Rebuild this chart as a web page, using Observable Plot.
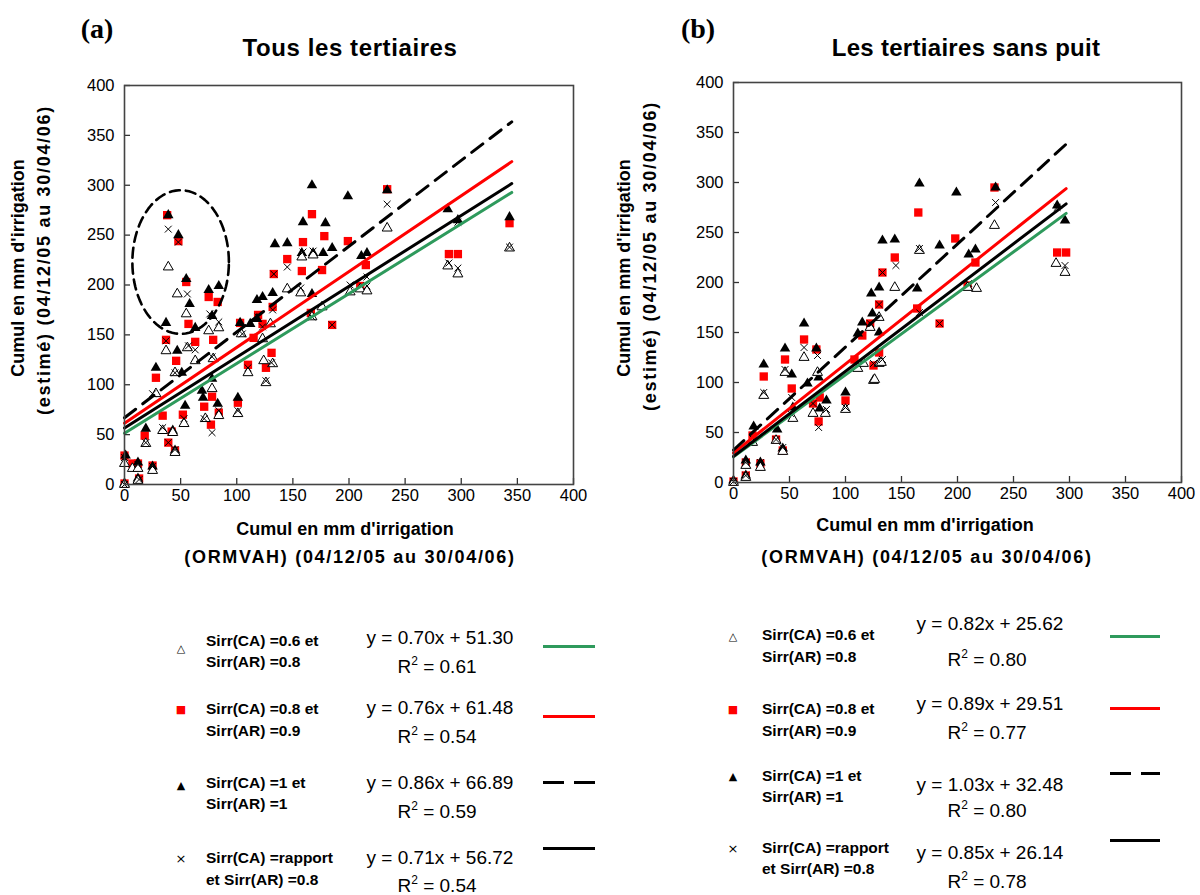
<!DOCTYPE html>
<html><head><meta charset="utf-8">
<script src="https://cdn.jsdelivr.net/npm/d3@7"></script>
<script src="https://cdn.jsdelivr.net/npm/@observablehq/plot@0.6"></script>
<style>
body{margin:0;background:#fff;}
#root{position:relative;width:1200px;height:895px;overflow:hidden;background:#fff;font-family:"Liberation Sans",Arial,sans-serif;color:#000;}
.t{position:absolute;white-space:nowrap;line-height:1;}
.c{transform:translate(-50%,-50%);}
.l{transform:translate(0,-50%);}
.plot{position:absolute;top:0;}
</style></head><body><div id="root"></div>
<script>
// ---------- tick values ----------
const axisTicks = [0, 50, 100, 150, 200, 250, 300, 350, 400];

// ---------- panel (a) : Tous les tertiaires ----------
const aOpen = [[39,218],[47,191],[55,171],[75,154],[84,157],[37,134],[56,137],[63,124],[79,126],[45,112],[28,91],[78,96],[34,54],[53,61],[72,66],[84,69],[101,71],[19,41],[43,52],[45,32],[0,21],[7,16],[12,16],[25,14],[12,4],[0,0],
  [157,192],[145,196],[167,168],[176,178],[168,230],[126,102],[110,112],[124,124],[132,121],[104,151],[130,161],[123,146],[158,228],[210,196],
  [234,257],[288,219],[297,211],[343,237],[216,194],[201,193]];
const aRed = [[38,270],[48,244],[55,203],[75,188],[83,183],[57,161],[37,145],[63,143],[79,145],[46,124],[28,107],[34,69],[52,70],[71,78],[78,88],[77,60],[84,72],[101,82],[18,49],[42,53],[39,42],[45,34],[0,29],[7,21],[12,21],[25,19],[13,6],[0,1],
  [167,271],[178,249],[199,244],[159,243],[145,226],[158,214],[176,215],[133,211],[215,220],[132,178],[119,170],[123,161],[166,172],[185,160],[115,147],[131,132],[110,120],[126,117],[103,162],
  [234,296],[289,231],[297,231],[343,262],[210,199]];
const aFilled = [[55,206],[75,195],[84,199],[58,181],[37,162],[78,169],[63,157],[47,134],[28,117],[51,112],[78,106],[69,94],[54,79],[70,87],[83,81],[101,87],[19,56],[43,54],[45,34],[1,29],[12,22],[25,18],[12,6],[0,1],
  [103,162],[118,185],[123,188],[132,192],[112,161],[118,166],[39,270],[48,250],
  [167,300],[199,289],[159,263],[179,262],[134,241],[145,242],[158,232],[168,232],[177,232],[185,237],[211,229],[216,232],[167,191],
  [234,295],[288,276],[297,265],[343,268]];
const aCross = [[39,256],[48,243],[56,191],[76,171],[84,163],[37,144],[57,139],[63,135],[78,128],[45,112],[25,91],[53,66],[71,66],[78,52],[84,74],[101,74],[34,57],[19,42],[39,42],[45,35],[0,27],[25,18],[13,5],[0,0],[12,20],
  [145,218],[133,211],[168,234],[159,233],[216,199],[132,175],[185,160],[157,197],[167,168],[110,117],[131,122],[126,104],[105,151],[123,158],[119,168],
  [234,281],[297,217],[297,263],[343,238],[289,222],[216,208],[201,200]];
const aSlope = [0.70, 0.76, 0.86, 0.71];
const aIntercept = [51.30, 61.48, 66.89, 56.72];
const aR2 = ["0.61", "0.54", "0.59", "0.54"];
const aXMax = 345;
// dashed ellipse circling the outliers in (a), in data units
const aEllipse = {cx: 50, cy: 223, rx: 43, ry: 72};

// ---------- panel (b) : Les tertiaires sans puit ----------
const bOpen = [[144,195],[166,232],[125,102],[130,119],[111,114],[116,119],[63,125],[46,110],[27,87],[53,64],[75,110],[71,69],[82,69],[100,73],[17,40],[38,42],[44,31],[11,17],[24,15],[11,5],[0,0],[217,194],[209,195],[130,165],[122,155],[132,120],[126,103],[233,257],[288,219],[296,210]];
const bRed = [[165,270],[144,225],[133,210],[130,178],[122,159],[115,147],[125,117],[130,130],[164,174],[63,143],[46,123],[27,106],[52,94],[74,133],[71,79],[77,85],[76,61],[100,82],[17,47],[38,43],[44,32],[11,20],[24,19],[11,7],[0,1],[108,123],[198,244],[216,220],[209,197],[184,159],[233,295],[289,230],[297,230]];
const bFilled = [[166,299],[133,242],[144,243],[130,195],[123,189],[164,194],[115,160],[124,169],[130,150],[63,159],[46,134],[74,134],[27,118],[52,108],[66,99],[76,105],[100,90],[83,82],[77,74],[18,56],[39,53],[44,34],[11,22],[24,20],[11,7],[0,2],[53,75],[111,149],[199,290],[184,237],[210,228],[216,233],[234,295],[289,277],[296,262]];
const bCross = [[234,280],[296,217],[289,275],[145,217],[133,210],[166,234],[130,178],[166,170],[184,159],[210,199],[122,159],[125,119],[133,123],[63,135],[46,113],[27,90],[52,85],[75,127],[76,55],[100,75],[17,44],[38,43],[44,35],[24,20],[11,20],[11,7],[0,1],[51,69],[71,79],[83,73]];
const bSlope = [0.82, 0.89, 1.03, 0.85];
const bIntercept = [25.62, 29.51, 32.48, 26.14];
const bR2 = ["0.80", "0.77", "0.80", "0.78"];
const bXMax = 297;

// ---------- shared text ----------
const seriesLabels = [["Sirr(CA) =0.6 et", "Sirr(AR) =0.8"], ["Sirr(CA) =0.8 et", "Sirr(AR) =0.9"], ["Sirr(CA) =1 et", "Sirr(AR) =1"], ["Sirr(CA) =rapport", "et Sirr(AR) =0.8"]];
const seriesColors = ["#2e9a5c", "#ff0000", "#000000", "#000000"];
const seriesDash = [null, null, "14,9", null];
const legendGlyphs = ["△", "■", "▲", "×"];
const xLabel = ["Cumul en mm d'irrigation", "(ORMVAH) (04/12/05 au 30/04/06)"];
const yLabel = ["Cumul en mm d'irrigation", "(estimé) (04/12/05 au 30/04/06)"];

const root = document.getElementById("root");
function txt(s, x, y, css, cls) {
  const d = document.createElement("div");
  d.className = "t " + (cls || "c");
  d.innerHTML = s;
  d.style.left = x + "px"; d.style.top = y + "px";
  Object.assign(d.style, css || {});
  root.appendChild(d);
  return d;
}

function fmt(m, b) { return "y = " + m.toFixed(2) + "x + " + b.toFixed(2); }

function panel(open, red, filled, cross, slope, intercept, xmax, m, ellipse) {
  const frameW = 600 - m.left - m.right, frameH = 620 - m.top - m.bottom;
  const P = d => ({x: d[0], y: d[1]});
  const lines = slope.map((s, i) => Plot.line([0, xmax].map(x => ({x, y: s * x + intercept[i]})), {
    x: "x", y: "y", stroke: seriesColors[i], strokeWidth: 3, strokeDasharray: seriesDash[i] || undefined
  }));
  const extra = [];
  if (ellipse) {
    const pts = d3.range(0, 361, 4).map(a => ({
      x: ellipse.cx + ellipse.rx * Math.cos(a * Math.PI / 180),
      y: ellipse.cy + ellipse.ry * Math.sin(a * Math.PI / 180)
    }));
    extra.push(Plot.line(pts, {x: "x", y: "y", stroke: "#000", strokeWidth: 2.6, strokeDasharray: "10,6", curve: "linear"}));
  }
  return Plot.plot({
    width: 600, height: 620,
    marginLeft: m.left, marginRight: m.right, marginTop: m.top, marginBottom: m.bottom,
    style: {background: "transparent", overflow: "visible", fontFamily: "Liberation Sans, Arial, sans-serif"},
    x: {domain: [0, 400]},
    y: {domain: [0, 400]},
    marks: [
      Plot.dot(red.map(P), {x: "x", y: "y", symbol: "square", fill: "#ff0000", r: 4.7}),
      Plot.dot(filled.map(P), {x: "x", y: "y", symbol: "triangle", fill: "#000", r: 3.9}),
      Plot.dot(open.map(P), {x: "x", y: "y", symbol: "triangle", fill: "#fff", stroke: "#000", strokeWidth: 1, r: 3.7}),
      Plot.dot(cross.map(P), {x: "x", y: "y", symbol: "times", stroke: "#000", strokeWidth: 1, r: 3.2}),
      ...lines,
      ...extra,
      Plot.ruleX(axisTicks, {x: d => d, insetTop: frameH - 6, stroke: "#333", strokeWidth: 1.3}),
      Plot.ruleY(axisTicks, {y: d => d, insetRight: frameW - 6, stroke: "#333", strokeWidth: 1.3}),
      Plot.axisX(axisTicks, {tickSize: 0, tickPadding: 5, fontSize: 16.5, label: null}),
      Plot.axisY(axisTicks, {tickSize: 0, tickPadding: 10, fontSize: 16.5, label: null}),
      Plot.frame({stroke: "#444", strokeWidth: 1.6})
    ]
  });
}

const pa = panel(aOpen, aRed, aFilled, aCross, aSlope, aIntercept, aXMax, {left: 124, right: 27, top: 85, bottom: 136}, aEllipse);
pa.classList.add("plot"); pa.style.left = "0px"; root.appendChild(pa);
const pb = panel(bOpen, bRed, bFilled, bCross, bSlope, bIntercept, bXMax, {left: 133, right: 19, top: 82, bottom: 138}, null);
pb.classList.add("plot"); pb.style.left = "600px"; root.appendChild(pb);

// titles
const serif = "Liberation Serif, Times New Roman, serif";
txt("(a)", 97, 29, {fontFamily: serif, fontWeight: "bold", fontSize: "28px"});
txt("Tous les tertiaires", 350, 48, {fontWeight: "bold", fontSize: "24px", letterSpacing: "0.6px"});
txt("(b)", 698, 29, {fontFamily: serif, fontWeight: "bold", fontSize: "28px"});
txt("Les tertiaires sans puit", 966, 48, {fontWeight: "bold", fontSize: "24px", letterSpacing: "0.3px"});

// axis labels
const ax1 = {fontWeight: "bold", fontSize: "18px"};
const ax2 = {fontWeight: "bold", fontSize: "18px", letterSpacing: "1.7px"};
txt(xLabel[0], 345, 529, ax1); txt(xLabel[1], 350, 557, ax2);
txt(xLabel[0], 925, 525, ax1); txt(xLabel[1], 927, 557, ax2);
[[18, 44, 268, 260], [624, 650, 268, 256]].forEach(([x1, x2, cy1, cy2]) => {
  const d1 = txt(yLabel[0], x1, cy1, ax1);
  d1.style.transform = "translate(-50%,-50%) rotate(-90deg)";
  const d2 = txt(yLabel[1], x2, cy2, ax2);
  d2.style.transform = "translate(-50%,-50%) rotate(-90deg)";
});

// legends
function legend(cfg) {
  seriesLabels.forEach((lab, i) => {
    const r = cfg.rows[i];
    txt(legendGlyphs[i], cfg.sym, r.sym, {fontFamily: "DejaVu Sans, sans-serif", fontSize: i === 3 ? "13px" : "11px", color: i === 1 ? "#ff0000" : "#000"});
    txt(lab[0], cfg.text, r.t1, {fontWeight: "bold", fontSize: "15.5px"}, "l");
    txt(lab[1], cfg.text, r.t2, {fontWeight: "bold", fontSize: "15.5px"}, "l");
    txt(fmt(cfg.slope[i], cfg.intercept[i]), cfg.eq, r.eq, {fontSize: "19px"});
    txt("R<sup style='font-size:12px;vertical-align:8px'>2</sup> = " + cfg.r2[i], cfg.eq - 3, r.r2, {fontSize: "19px"});
    const ln = document.createElement("div");
    ln.style.position = "absolute";
    ln.style.left = cfg.line[0] + "px"; ln.style.width = (cfg.line[1] - cfg.line[0]) + "px";
    ln.style.top = (r.ln - 1.5) + "px"; ln.style.height = "3px";
    ln.style.background = seriesDash[i]
      ? `repeating-linear-gradient(90deg, ${seriesColors[i]} 0 21px, transparent 21px 31px)`
      : seriesColors[i];
    root.appendChild(ln);
  });
}
legend({sym: 181, text: 206, eq: 440, line: [543, 595], slope: aSlope, intercept: aIntercept, r2: aR2,
  rows: [{sym: 648, t1: 641, t2: 662, eq: 637, r2: 665, ln: 646}, {sym: 709, t1: 709, t2: 731, eq: 707, r2: 735, ln: 716},
         {sym: 785, t1: 783, t2: 804, eq: 782, r2: 810, ln: 782}, {sym: 858, t1: 858, t2: 880, eq: 857, r2: 884, ln: 848}]});
legend({sym: 733, text: 762, eq: 990, line: [1110, 1160], slope: bSlope, intercept: bIntercept, r2: bR2,
  rows: [{sym: 636, t1: 635, t2: 657, eq: 623, r2: 658, ln: 636}, {sym: 709, t1: 709, t2: 731, eq: 703, r2: 731, ln: 708},
         {sym: 776, t1: 776, t2: 797, eq: 784, r2: 809, ln: 773}, {sym: 848, t1: 848, t2: 869, eq: 852, r2: 880, ln: 840}]});
</script></body></html>
